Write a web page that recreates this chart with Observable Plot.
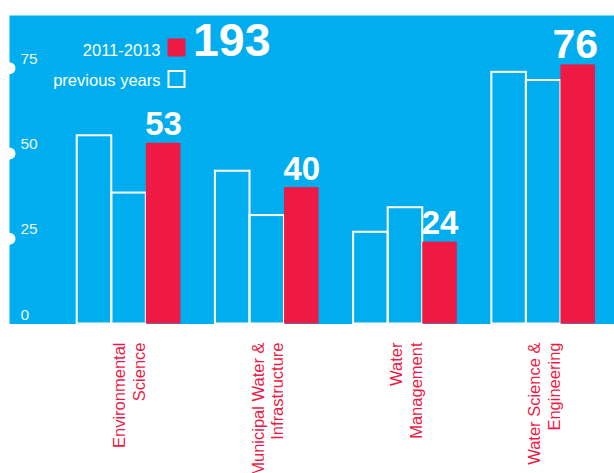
<!DOCTYPE html>
<html><head><meta charset="utf-8">
<script src="https://cdn.jsdelivr.net/npm/d3@7"></script>
<script src="https://cdn.jsdelivr.net/npm/@observablehq/plot@0.6"></script>
<style>body{margin:0;background:#fff}#chart svg{display:block}</style>
</head><body><div id="chart"></div>
<script>
const categories = ["Environmental\nScience", "Municipal Water &\nInfrastructure", "Water\nManagement", "Water Science &\nEngineering"];
const previousA = [55.2, 44.8, 26.9, 73.8];
const previousB = [38.4, 31.8, 34.1, 71.4];
const current = [53, 40, 24, 76];
const yTicks = [0, 25, 50, 75];
const legendLabels = ["2011-2013", "previous years"];

const BLUE = "#00aeef";
const RED = "#ef1a44";
const FONT = "'Liberation Sans', Arial, sans-serif";

const prev = categories.flatMap((c, i) => [
  {category: c, slot: i * 4, value: previousA[i]},
  {category: c, slot: i * 4 + 1, value: previousB[i]}
]);
const cur = categories.map((c, i) => ({category: c, slot: i * 4 + 2, value: current[i]}));
const groups = categories.map((c, i) => ({category: c, center: i * 4 + 1.5}));
const total = d3.sum(current);
const maxCur = d3.max(current);

const chart = Plot.plot({
  width: 614,
  height: 473,
  marginLeft: 9,
  marginRight: 0,
  marginTop: 15,
  marginBottom: 149.5,
  style: {fontFamily: FONT, background: "#fff"},
  x: {domain: [-1.96, 15.55], axis: null},
  y: {domain: [0, 90.47], axis: null},
  marks: [
    Plot.frame({fill: BLUE, stroke: "none"}),
    Plot.rect(prev, {x1: "slot", x2: d => d.slot + 1, y1: 0, y2: "value", fill: "none", stroke: "white", strokeWidth: 2}),
    Plot.rect(cur, {x1: "slot", x2: d => d.slot + 1, y1: 0, y2: "value", fill: RED}),
    Plot.text(cur.filter(d => d.value !== maxCur), {x: d => d.slot + 0.5, y: "value", text: d => String(d.value), dy: -8, lineAnchor: "bottom", fill: "white", fontWeight: "bold", fontSize: 33}),
    Plot.text(cur.filter(d => d.value === maxCur), {x: d => d.slot + 0.5, y: "value", text: d => String(d.value), dx: -3, dy: -7, lineAnchor: "bottom", fill: "white", fontWeight: "bold", fontSize: 41}),
    Plot.text(groups, {x: "center", frameAnchor: "bottom", text: "category", rotate: -90, textAnchor: "end", lineAnchor: "middle", lineHeight: 1.2, dy: 18.5, fill: RED, fontSize: 16.5}),
    Plot.dot(yTicks.filter(t => t > 0), {y: d => d, frameAnchor: "left", r: 6, fill: "white", stroke: "none"}),
    Plot.text(yTicks, {y: d => d, frameAnchor: "left", text: d => String(d), dx: 11, dy: -4.5, textAnchor: "start", lineAnchor: "bottom", fill: "#eaf6fd", fontSize: 15.5}),
    Plot.text([legendLabels[0]], {frameAnchor: "top-left", text: d => d, dx: 151, dy: 40, textAnchor: "end", lineAnchor: "bottom", fill: "white", fontSize: 16.5}),
    Plot.text([legendLabels[1]], {frameAnchor: "top-left", text: d => d, dx: 151, dy: 70, textAnchor: "end", lineAnchor: "bottom", fill: "white", fontSize: 16.5}),
    Plot.dot([0], {frameAnchor: "top-left", dx: 167, dy: 32, symbol: "square", r: 10.16, fill: RED, stroke: "none"}),
    Plot.dot([0], {frameAnchor: "top-left", dx: 167, dy: 63.5, symbol: "square", r: 9.03, fill: "none", stroke: "white", strokeWidth: 2}),
    Plot.text([total], {frameAnchor: "top-left", text: d => String(d), dx: 183.5, dy: 40.5, textAnchor: "start", lineAnchor: "bottom", fill: "white", fontWeight: "bold", fontSize: 46.5})
  ]
});
document.getElementById("chart").appendChild(chart);
</script>
</body></html>
